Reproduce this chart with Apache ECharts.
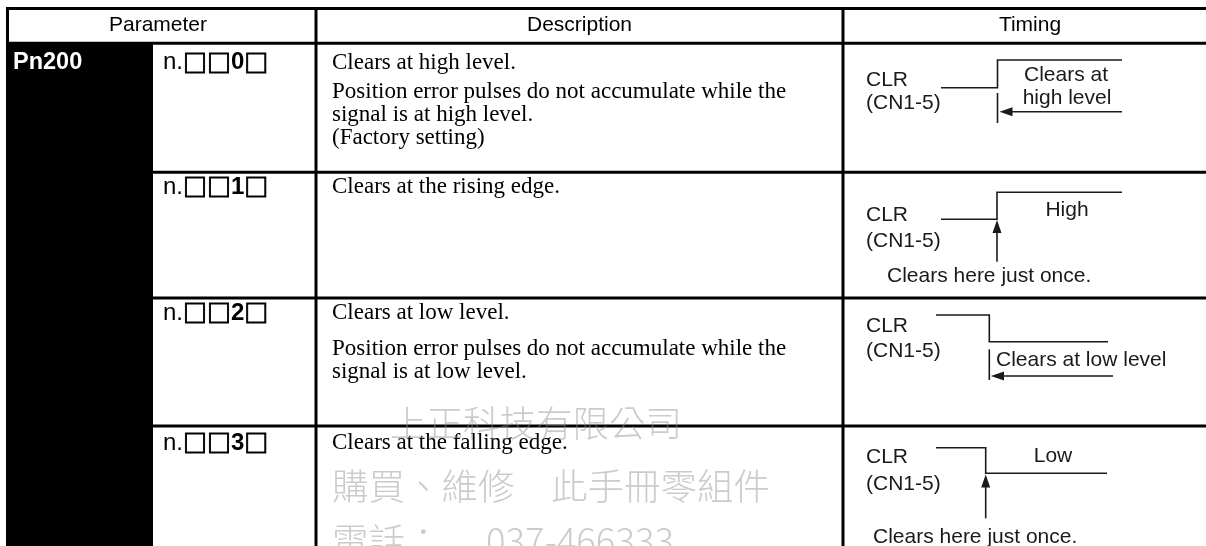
<!DOCTYPE html>
<html>
<head>
<meta charset="utf-8">
<script src="https://cdn.jsdelivr.net/npm/echarts@6/dist/echarts.min.js"></script>
<style>html,body{margin:0;padding:0;background:#fff}#c{width:1206px;height:546px}</style>
</head>
<body>
<div id="c"></div>
<script>
// ---- data ----
const headers = ['Parameter', 'Description', 'Timing'];
const paramName = 'Pn200';
const paramDigits = ['0', '1', '2', '3'];
const descriptions = [
  ['Clears at high level.', 'Position error pulses do not accumulate while the', 'signal is at high level.', '(Factory setting)'],
  ['Clears at the rising edge.'],
  ['Clears at low level.', 'Position error pulses do not accumulate while the', 'signal is at low level.'],
  ['Clears at the falling edge.']
];
const signalLabel = ['CLR', '(CN1-5)'];
const timingNotes = [
  ['Clears at', 'high level'],
  ['High', 'Clears here just once.'],
  ['Clears at low level'],
  ['Low', 'Clears here just once.']
];
const watermark = ['上正科技有限公司', '購買、維修　此手冊零組件', '電話：　 037-466333'];

// ---- layout ----
const chart = echarts.init(document.getElementById('c'), null, {renderer: 'canvas'});
const W = 1206, H = 546;
const colX = [6, 153, 316, 843, W];
const rowY = [8.5, 43.3, 172.3, 298, 426, H];
const LW = 3;
const g = [];
const SANS = 'Liberation Sans, Arial, sans-serif';
const SERIF = 'Liberation Serif, Times New Roman, serif';
const INK = '#1a1a1a';

function hline(x1, x2, y) { g.push({type: 'rect', shape: {x: x1, y: y - LW / 2, width: x2 - x1, height: LW}, style: {fill: '#000'}, z: 10}); }
function vline(x, y1, y2) { g.push({type: 'rect', shape: {x: x - LW / 2, y: y1, width: LW, height: y2 - y1}, style: {fill: '#000'}, z: 10}); }
function text(t, x, y, opt) {
  g.push({type: 'text', x: x, y: y, z: 20, style: Object.assign({text: t, fill: '#000', textVerticalAlign: 'middle', textAlign: 'left'}, opt)});
}
function poly(pts) { g.push({type: 'polyline', shape: {points: pts}, style: {stroke: INK, lineWidth: 1.6, fill: null}, z: 15}); }
function arrow(tip, dir) {
  const L = 13, hw = 4.5;
  let pts;
  if (dir === 'left') pts = [[tip[0], tip[1]], [tip[0] + L, tip[1] - hw], [tip[0] + L, tip[1] + hw]];
  else pts = [[tip[0], tip[1]], [tip[0] - hw, tip[1] + L], [tip[0] + hw, tip[1] + L]];
  g.push({type: 'polygon', shape: {points: pts}, style: {fill: INK}, z: 15});
}

// black parameter column
g.push({type: 'rect', shape: {x: colX[0], y: rowY[1], width: colX[1] - colX[0], height: H - rowY[1]}, style: {fill: '#000'}, z: 5});

// table lines
hline(colX[0], W, rowY[0]);
hline(colX[0], W, rowY[1]);
for (let i = 2; i <= 4; i++) hline(colX[1], W, rowY[i]);
vline(colX[0] + LW / 2, rowY[0], rowY[1]);
vline(colX[2], rowY[0] - LW / 2, H);
vline(colX[3], rowY[0] - LW / 2, H);

// header
const hy = 25.5;
text(headers[0], (colX[0] + colX[2]) / 2 - 3, hy, {textAlign: 'center', font: '21px ' + SANS});
text(headers[1], (colX[2] + colX[3]) / 2, hy, {textAlign: 'center', font: '21px ' + SANS});
text(headers[2], 1030, hy, {textAlign: 'center', font: '21px ' + SANS});

// parameter name
text(paramName, 13, 62.5, {fill: '#fff', font: 'bold 23.5px ' + SANS});

// codes
const codeY = [62.5, 187, 313, 443];
paramDigits.forEach((d, i) => {
  g.push({type: 'text', x: 163, y: codeY[i], z: 20, style: {
    text: '{n|n.}{s|□□}{b|' + d + '}{s|□}', textVerticalAlign: 'middle',
    rich: {
      n: {fontFamily: SANS, fontSize: 24, fill: '#000'},
      s: {fontFamily: '"Noto Sans CJK JP"', fontSize: 24, fontWeight: 'bold', fill: '#000', stroke: '#000', lineWidth: 0.9},
      b: {fontFamily: SANS, fontSize: 24, fontWeight: 'bold', fill: '#000'}
    }
  }});
});

// descriptions
const descY = [[62.5, 92, 115, 138], [187], [312.5, 348.5, 371.5], [443]];
descriptions.forEach((lines, i) => {
  lines.forEach((ln, j) => text(ln, 332, descY[i][j], {font: '23px ' + SERIF}));
});

// watermark
const wmFont = '300 36.5px "Noto Sans CJK TC", sans-serif';
const wmFill = 'rgba(140,140,140,0.45)';
text(watermark[0], 390, 423, {font: wmFont, fill: wmFill});
text(watermark[1], 332, 486, {font: wmFont, fill: wmFill});
text(watermark[2], 332, 541, {font: wmFont, fill: wmFill});

// timing diagrams
const tf = '21px ' + SANS;
const sig = [[80.5, 103.5], [215, 241.5], [326, 351], [457.5, 484]];
sig.forEach(ys => { text(signalLabel[0], 866, ys[0], {font: tf, fill: INK}); text(signalLabel[1], 866, ys[1], {font: tf, fill: INK}); });

// row 1: clears at high level
poly([[941, 87.7], [997.5, 87.7], [997.5, 60], [1122, 60]]);
poly([[997.5, 93], [997.5, 123]]);
poly([[1122, 111.7], [1005, 111.7]]);
arrow([999.5, 111.7], 'left');
text(timingNotes[0][0], 1066, 75, {font: tf, fill: INK, textAlign: 'center'});
text(timingNotes[0][1], 1067, 98.5, {font: tf, fill: INK, textAlign: 'center'});

// row 2: rising edge
poly([[941, 219.3], [997, 219.3], [997, 192.3], [1122, 192.3]]);
poly([[997, 261.7], [997, 228]]);
arrow([997, 220], 'up');
text(timingNotes[1][0], 1067, 210.5, {font: tf, fill: INK, textAlign: 'center'});
text(timingNotes[1][1], 887, 276.5, {font: tf, fill: INK});

// row 3: low level
poly([[936, 315], [989.3, 315], [989.3, 341.7], [1108, 341.7]]);
poly([[989.3, 349.3], [989.3, 380]]);
poly([[1113, 376], [997, 376]]);
arrow([991, 376], 'left');
text(timingNotes[2][0], 996, 360, {font: tf, fill: INK});

// row 4: falling edge
poly([[936, 447.7], [985.7, 447.7], [985.7, 473.3], [1107, 473.3]]);
poly([[985.7, 518.3], [985.7, 482]]);
arrow([985.7, 474.5], 'up');
text(timingNotes[3][0], 1053, 456.7, {font: tf, fill: INK, textAlign: 'center'});
text(timingNotes[3][1], 873, 537, {font: tf, fill: INK});

chart.setOption({animation: false, backgroundColor: '#fff', graphic: {elements: g}});
</script>
</body>
</html>
